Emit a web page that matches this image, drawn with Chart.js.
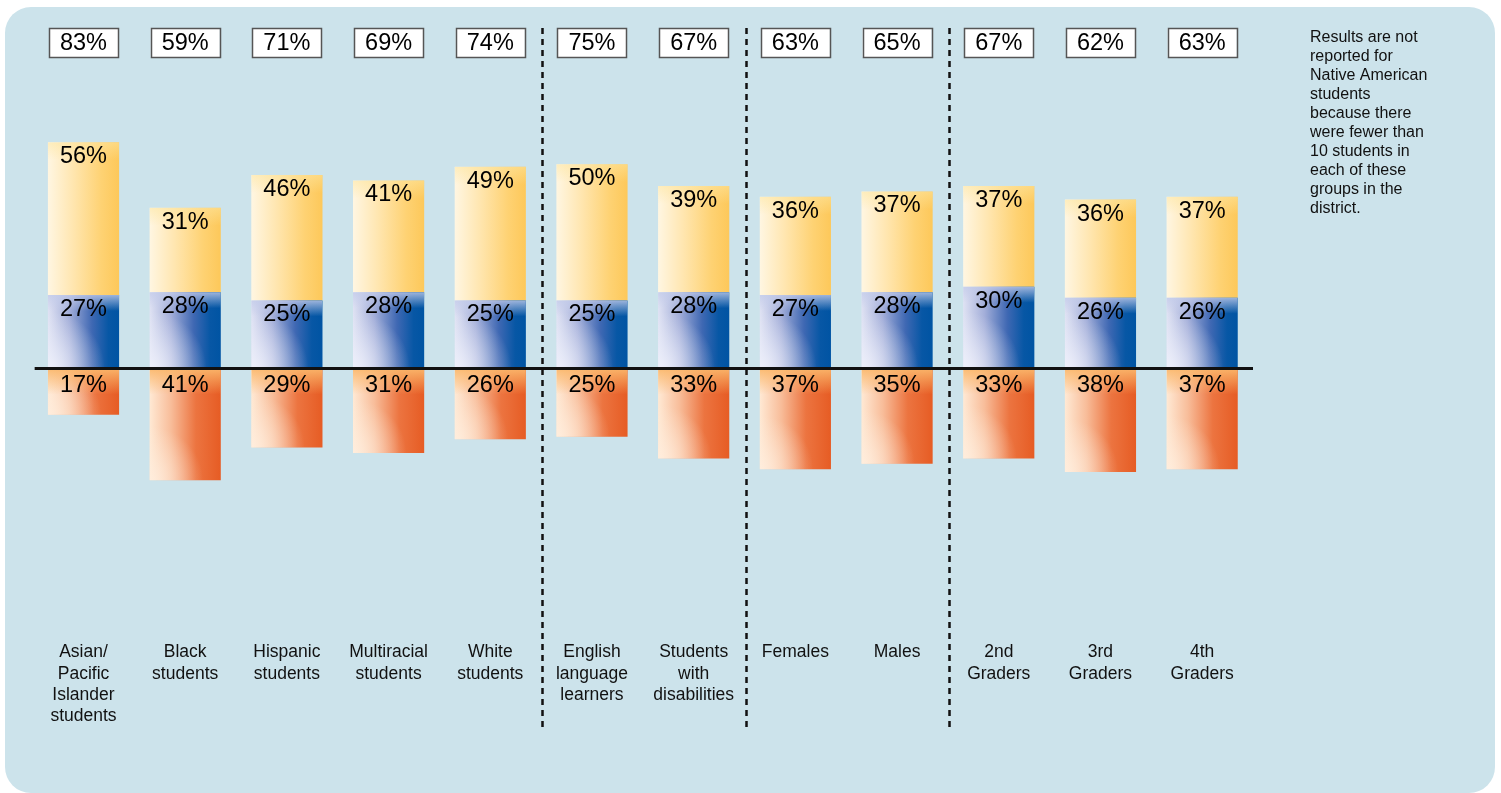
<!DOCTYPE html>
<html><head><meta charset="utf-8">
<script src="https://cdn.jsdelivr.net/npm/chart.js@4/dist/chart.umd.min.js"></script>
<style>
html,body{margin:0;padding:0;background:#fff;width:1501px;height:793px;overflow:hidden}
#panel{position:absolute;left:5px;top:7px;width:1490px;height:786px;background:#cce3eb;border-radius:26px}
#wrap{position:absolute;left:0;top:0;width:1501px;height:793px}
</style></head><body>
<div id="panel"></div>
<div id="wrap"><canvas id="c"></canvas></div>
<script>
const categories = [
  ["Asian/","Pacific","Islander","students"],
  ["Black","students"],
  ["Hispanic","students"],
  ["Multiracial","students"],
  ["White","students"],
  ["English","language","learners"],
  ["Students","with","disabilities"],
  ["Females"],
  ["Males"],
  ["2nd","Graders"],
  ["3rd","Graders"],
  ["4th","Graders"]
];
const blueValues   = [27,28,25,28,25,25,28,27,28,30,26,26];
const orangeValues = [56,31,46,41,49,50,39,36,37,37,36,37];
const redValues    = [17,41,29,31,26,25,33,37,35,33,38,37];
const totalValues  = [83,59,71,69,74,75,67,63,65,67,62,63];
const groupEnds = [4,6,8];
const noteLines = ["Results are not","reported for","Native American","students","because there","were fewer than","10 students in","each of these","groups in the","district."];

const FONT = '"Liberation Sans", Arial, Helvetica, sans-serif';
const BAR_PCT = 0.7;

function geom(chart, i, lo, hi){
  const xs = chart.scales.x, ys = chart.scales.y;
  const cx = xs.getPixelForValue(i);
  const w = (xs.width / categories.length) * BAR_PCT;
  const a = ys.getPixelForValue(lo), b = ys.getPixelForValue(hi);
  return {l: cx - w/2, r: cx + w/2, t: Math.min(a,b), b: Math.max(a,b), w: w, cx: cx};
}
function hGrad(ctx, g, stops){
  const gr = ctx.createLinearGradient(g.l, 0, g.r, 0);
  stops.forEach(s => gr.addColorStop(s[0], s[1]));
  return gr;
}
function makeBg(kind, fallback){
  return function(context){
    const chart = context.chart;
    if (!chart.chartArea || context.type !== 'data') return fallback;
    const i = context.dataIndex, ctx = chart.ctx;
    if (kind === 'blue'){
      const g = geom(chart, i, 0, blueValues[i]);
      return hGrad(ctx, g, [[0,'#dfe2f3'],[0.3,'#a3aed9'],[0.62,'#3f68b3'],[0.85,'#0757a5'],[1,'#0054a3']]);
    } else if (kind === 'orange'){
      const g = geom(chart, i, blueValues[i], blueValues[i] + orangeValues[i]);
      return hGrad(ctx, g, [[0,'#fff6e2'],[0.35,'#ffe6b0'],[0.75,'#fed273'],[1,'#fdc85a']]);
    } else {
      const g = geom(chart, i, 0, -redValues[i]);
      return hGrad(ctx, g, [[0,'#ffe9d4'],[0.3,'#f8bd9a'],[0.65,'#ec7440'],[1,'#e65c24']]);
    }
  };
}

const overlayPlugin = {
  id: 'overlay',
  afterDatasetsDraw(chart){
    const ctx = chart.ctx;
    const xs = chart.scales.x, ys = chart.scales.y, ca = chart.chartArea;
    ctx.save();
    [0,1,2].forEach(di => {
      const meta = chart.getDatasetMeta(di);
      meta.data.forEach(el => {
        const p = el.getProps(['x','y','base','width'], true);
        const l = p.x - p.width/2, r = p.x + p.width/2;
        const t = Math.min(p.y, p.base), b = Math.max(p.y, p.base);
        const w = p.width;
        ctx.save();
        ctx.beginPath(); ctx.rect(l, t, r-l, b-t); ctx.clip();
        if (di === 0){
          let rg = ctx.createRadialGradient(l, b, 0, l, b, w*0.8);
          rg.addColorStop(0,'rgba(238,240,251,0.95)'); rg.addColorStop(1,'rgba(238,240,251,0)');
          ctx.fillStyle = rg; ctx.fillRect(l,t,r-l,b-t);
          let vg = ctx.createLinearGradient(0, t, 0, t+16);
          vg.addColorStop(0,'rgba(196,204,234,0.8)'); vg.addColorStop(1,'rgba(196,204,234,0)');
          ctx.fillStyle = vg; ctx.fillRect(l,t,r-l,16);
        } else if (di === 2){
          let rg = ctx.createRadialGradient(l, b, 0, l, b, w*0.75);
          rg.addColorStop(0,'rgba(255,238,222,0.85)'); rg.addColorStop(1,'rgba(255,238,222,0)');
          ctx.fillStyle = rg; ctx.fillRect(l,t,r-l,b-t);
          let vg = ctx.createLinearGradient(0, t, 0, t+26);
          vg.addColorStop(0,'rgba(251,184,108,0.95)'); vg.addColorStop(1,'rgba(251,184,108,0)');
          ctx.fillStyle = vg; ctx.fillRect(l,t,r-l,26);
        } else {
          let vg = ctx.createLinearGradient(0, t, 0, t+18);
          vg.addColorStop(0,'rgba(253,230,160,0.55)'); vg.addColorStop(1,'rgba(253,230,160,0)');
          ctx.fillStyle = vg; ctx.fillRect(l,t,r-l,18);
        }
        ctx.restore();
      });
    });
    const y0 = ys.getPixelForValue(0);
    ctx.strokeStyle = '#111'; ctx.lineWidth = 3;
    ctx.beginPath(); ctx.moveTo(ca.left + 2, y0); ctx.lineTo(ca.right, y0); ctx.stroke();
    ctx.setLineDash([6,5]); ctx.lineWidth = 2.5; ctx.strokeStyle = '#111';
    groupEnds.forEach(k => {
      const x = Math.round((xs.getPixelForValue(k) + xs.getPixelForValue(k+1))/2) + 1.5;
      ctx.beginPath(); ctx.moveTo(x, 28); ctx.lineTo(x, 731); ctx.stroke();
    });
    ctx.setLineDash([]);
    ctx.fillStyle = '#000'; ctx.textAlign = 'center'; ctx.textBaseline = 'alphabetic';
    ctx.font = '23.5px ' + FONT;
    categories.forEach((c, i) => {
      const cx = xs.getPixelForValue(i);
      const yOrange = ys.getPixelForValue(blueValues[i] + orangeValues[i]);
      const yBlue = ys.getPixelForValue(blueValues[i]);
      ctx.fillText(orangeValues[i] + '%', cx, yOrange + 21);
      ctx.fillText(blueValues[i] + '%', cx, yBlue + 21);
      ctx.fillText(redValues[i] + '%', cx, y0 + 23);
    });
    categories.forEach((c, i) => {
      const cx = xs.getPixelForValue(i);
      const bw = 69, bh = 29, by = 28;
      ctx.fillStyle = '#fff'; ctx.fillRect(cx - bw/2, by, bw, bh);
      ctx.strokeStyle = '#555'; ctx.lineWidth = 1.5;
      ctx.strokeRect(Math.round(cx - bw/2) + 0.5, by + 0.5, bw, bh);
      ctx.fillStyle = '#000';
      ctx.fillText(totalValues[i] + '%', cx, by + 22);
    });
    ctx.textAlign = 'left'; ctx.font = '16px ' + FONT; ctx.fillStyle = '#111';
    noteLines.forEach((s, j) => ctx.fillText(s, 1310, 41.5 + 19.1*j));
    ctx.restore();
  }
};

new Chart(document.getElementById('c'), {
  type: 'bar',
  data: {
    labels: categories,
    datasets: [
      {label: 'blue', data: blueValues, backgroundColor: makeBg('blue','#3f68b3'), stack: 's'},
      {label: 'orange', data: orangeValues, backgroundColor: makeBg('orange','#fed273'), stack: 's'},
      {label: 'red', data: redValues.map(v => -v), backgroundColor: makeBg('red','#ec7440'), stack: 's'}
    ]
  },
  options: {
    responsive: true,
    maintainAspectRatio: false,
    animation: false,
    events: [],
    datasets: {bar: {categoryPercentage: 1, barPercentage: BAR_PCT, borderWidth: 0}},
    layout: {padding: {left: 32.65, right: 248, top: 20, bottom: 60.7}},
    plugins: {legend: {display: false}, tooltip: {enabled: false}, title: {display: false}},
    scales: {
      x: {
        stacked: true,
        border: {display: false},
        grid: {display: false, drawTicks: false},
        ticks: {autoSkip: false, maxRotation: 0, minRotation: 0, padding: 5, color: '#111',
                font: {family: FONT, size: 17.5, lineHeight: 1.22}}
      },
      y: {
        stacked: true, display: false,
        min: -98.5, max: 127.9
      }
    }
  },
  plugins: [overlayPlugin]
});
</script>
</body></html>
